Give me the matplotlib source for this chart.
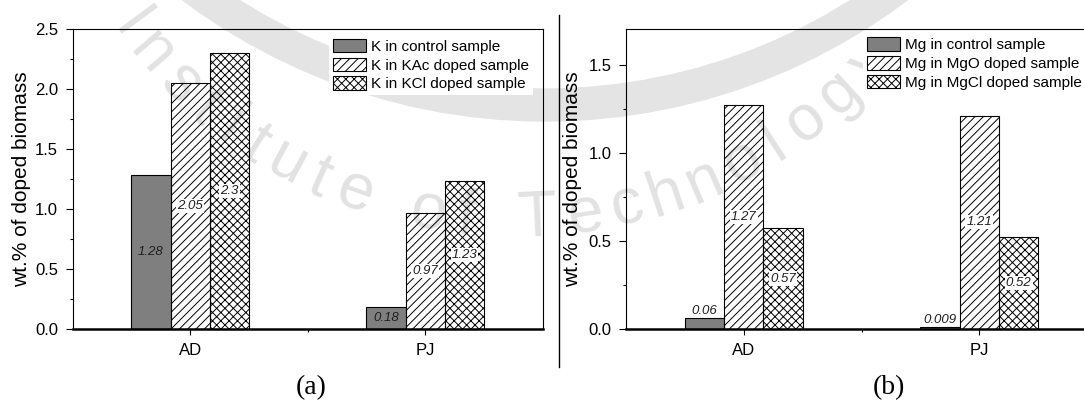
import matplotlib
matplotlib.use("Agg")
import matplotlib.pyplot as plt
from matplotlib.lines import Line2D
from matplotlib.patches import Circle
from matplotlib.textpath import TextPath
from matplotlib.font_manager import FontProperties
import numpy as np

plt.rcParams['font.family'] = ['Liberation Sans', 'DejaVu Sans']
plt.rcParams['hatch.linewidth'] = 0.7
plt.rcParams['hatch.color'] = 'black'

categories = ["AD", "PJ"]

k_series = ["K in control sample", "K in KAc doped sample", "K in KCl doped sample"]
k_control = [1.28, 0.18]
k_kac = [2.05, 0.97]
k_kcl = [2.3, 1.23]

mg_series = ["Mg in control sample", "Mg in MgO doped sample", "Mg in MgCl doped sample"]
mg_control = [0.06, 0.009]
mg_mgo = [1.27, 1.21]
mg_mgcl = [0.57, 0.52]

FILL = ['#7f7f7f', 'none', 'none']
HATCH = [None, '////', 'xxxx']

W, H = 1084, 400


def draw_panel(ax, names, values, ymax, legend_anchor):
    x = np.arange(1, len(categories) + 1)
    width = 0.167
    for i, (name, vals) in enumerate(zip(names, values)):
        bars = ax.bar(x + (i - 1) * width, vals, width, facecolor=FILL[i],
                      edgecolor='black', linewidth=0.8, hatch=HATCH[i],
                      label=name, zorder=2)
        for rect, v in zip(bars, vals):
            cx = rect.get_x() + rect.get_width() / 2
            box = None
            if HATCH[i] is not None:
                box = dict(boxstyle='square,pad=0.08', facecolor='white',
                           edgecolor='none')
            if v / ymax < 0.05:
                ax.annotate(f"{v:g}", (cx, v), xytext=(0, 1),
                            textcoords='offset points', ha='center',
                            va='bottom', fontsize=9.5, style='italic',
                            color='#202020', zorder=4)
            else:
                ax.text(cx, v / 2, f"{v:g}", ha='center', va='center',
                        fontsize=9.5, style='italic', color='#202020',
                        bbox=box, zorder=4)

    ax.set_facecolor('none')
    ax.set_xlim(0.5, 2.5)
    ax.set_ylim(0, ymax)
    ax.set_xticks(x)
    ax.set_xticklabels(categories)
    ax.set_xticks([1.5], minor=True)
    ax.set_yticks(np.arange(0, ymax + 1e-9, 0.5))
    ax.set_yticks(np.arange(0.25, ymax, 0.5), minor=True)
    ax.yaxis.set_major_formatter(matplotlib.ticker.FormatStrFormatter('%.1f'))
    ax.tick_params(axis='y', which='major', direction='out', length=5,
                   width=0.8, pad=5.5, labelsize=12)
    ax.tick_params(axis='y', which='minor', direction='out', length=2.5,
                   width=0.8)
    ax.tick_params(axis='x', which='major', direction='out', length=4.3,
                   width=0.8, pad=6, labelsize=12)
    ax.tick_params(axis='x', which='minor', direction='out', length=2.2,
                   width=0.8)
    for side in ['left', 'right', 'top']:
        ax.spines[side].set_linewidth(0.8)
    ax.spines['bottom'].set_linewidth(1.8)

    ax.set_ylabel('wt.% of doped biomass', fontsize=15, va='center')

    leg = ax.legend(loc='upper left', bbox_to_anchor=legend_anchor,
                    fontsize=11, frameon=True, fancybox=False,
                    edgecolor='none', facecolor='white', framealpha=1,
                    borderpad=0.25, borderaxespad=0, handlelength=2.16,
                    handleheight=1.0, handletextpad=0.33, labelspacing=0.24)
    leg.set_zorder(5)


fig = plt.figure(figsize=(W / 100, H / 100), dpi=100)

# faint page watermark behind the charts (pixel coordinates, y downwards)
bg = fig.add_axes([0, 0, 1, 1], zorder=-10)
bg.set_xlim(0, W)
bg.set_ylim(H, 0)
bg.axis('off')
bg.add_patch(Circle((545, -482), 587, fill=False, edgecolor='#e4e4e4',
                    linewidth=24))
mark = "Institute of Technology"
fp = FontProperties(family='Liberation Sans')
adv = [TextPath((0, 0), ch, size=1, prop=fp).get_extents().width
       if ch != ' ' else 0.3 for ch in mark]
adv = [max(a, 0.3) + 0.1 for a in adv]
centres = np.cumsum(adv) - np.array(adv) / 2
frac = centres / centres[-1]
ang = np.radians(145.5 - frac * (145.5 - 42))
for ch, a in zip(mark, ang):
    px = 515 + 478 * np.cos(a)
    py = -258 + 478 * np.sin(a)
    bg.text(px, py, ch, ha='center', va='center', fontsize=46,
            color='#e2e2e2', rotation=90 - np.degrees(a),
            rotation_mode='anchor', family='Liberation Sans')

ax1 = fig.add_axes([0.0671, 0.17825, 0.4336, 0.7485])
ax2 = fig.add_axes([0.5775, 0.17825, 0.4345, 0.7485])

draw_panel(ax1, k_series, [k_control, k_kac, k_kcl], 2.5, (0.545, 0.981))
draw_panel(ax2, mg_series, [mg_control, mg_mgo, mg_mgcl], 1.7, (0.503, 0.986))
ax1.yaxis.set_label_coords(-0.109, 0.5)
ax2.yaxis.set_label_coords(-0.114, 0.5)

# vertical divider between the two panels
fig.add_artist(Line2D([0.5157, 0.5157], [0.0825, 0.9625], color='black',
                      linewidth=1.0))

fig.text(0.2875, 0.032, '(a)', ha='center', va='center',
         family='Liberation Serif', fontsize=20)
fig.text(0.820, 0.032, '(b)', ha='center', va='center',
         family='Liberation Serif', fontsize=20)

fig.savefig('out.png', dpi=100)
